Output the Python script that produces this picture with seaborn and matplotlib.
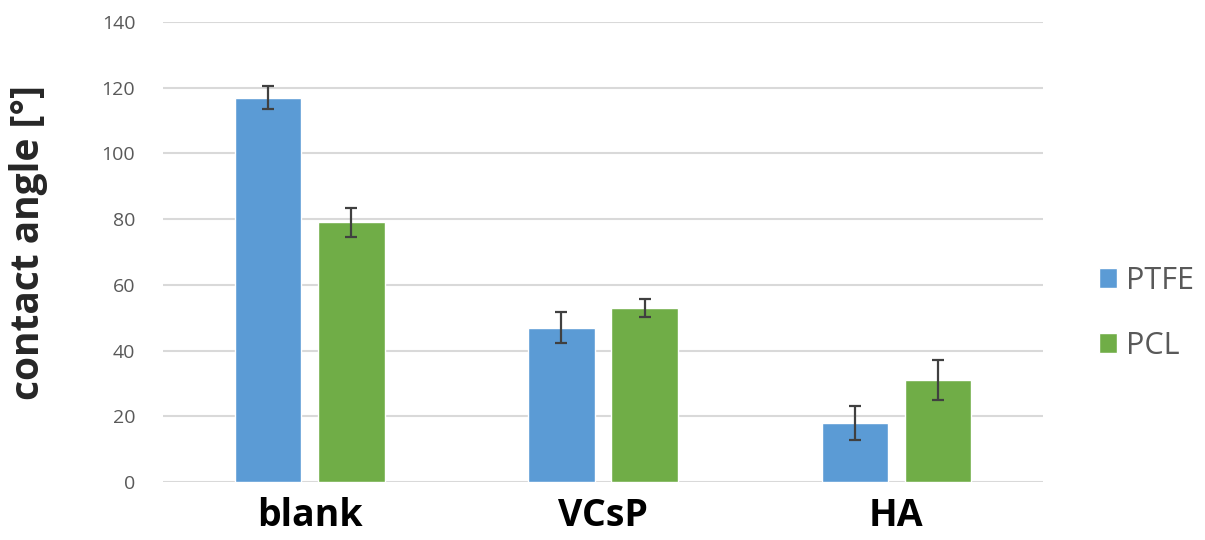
import pandas as pd
import matplotlib
matplotlib.use("Agg")
import matplotlib.pyplot as plt
import seaborn as sns

# data
categories = ["blank", "VCsP", "HA"]
ptfe_mean = [117, 47, 18]
ptfe_err = [3.5, 4.7, 5.2]
pcl_mean = [79, 53, 31]
pcl_err = [4.4, 2.8, 6.0]
series = ["PTFE", "PCL"]
colors = ["#5B9BD5", "#70AD47"]

df = pd.DataFrame({
    "sample": categories * 2,
    "material": ["PTFE"] * 3 + ["PCL"] * 3,
    "angle": ptfe_mean + pcl_mean,
    "err": ptfe_err + pcl_err,
})

sns.set_style("white")
plt.rcParams["font.family"] = ["Open Sans", "DejaVu Sans"]

fig = plt.figure(figsize=(12.05, 5.4), dpi=100)
ax = fig.add_axes([0.1353, 0.1074, 0.7303, 0.8519])

sns.barplot(data=df, x="sample", y="angle", hue="material", order=categories,
            hue_order=series, palette=colors, width=0.567, gap=0.2,
            saturation=1, errorbar=None, ax=ax)

# error bars at the centres of the drawn bars
for cont, name in zip(ax.containers, series):
    sub = df[df["material"] == name].set_index("sample").loc[categories]
    xs = [p.get_x() + p.get_width() / 2 for p in cont]
    ax.errorbar(xs, sub["angle"], yerr=sub["err"], fmt="none",
                ecolor="#404040", elinewidth=1.6, capsize=4.5, capthick=1.6, zorder=5)

ax.set_ylim(0, 140)
ax.set_xlim(-0.5, 2.5)
ax.set_yticks(range(0, 141, 20))
ax.yaxis.grid(True, color="#D9D9D9", linewidth=1.5)
ax.set_axisbelow(True)
for s in ax.spines.values():
    s.set_visible(False)
ax.tick_params(axis="y", labelsize=14, labelcolor="#595959", length=0, pad=20)
ax.tick_params(axis="x", labelsize=27, labelcolor="black", length=0, pad=11)
for lab in ax.get_xticklabels():
    lab.set_fontweight("bold")
ax.set_xlabel("")
ax.set_ylabel("contact angle [°]", fontsize=28, fontweight="bold")
ax.yaxis.set_label_coords(-0.131, 0.52)

handles, labels = ax.get_legend_handles_labels()
ax.legend(handles, labels, loc="center left", bbox_to_anchor=(0.912, 0.42),
          bbox_transform=fig.transFigure, frameon=False, fontsize=22,
          labelcolor="#595959", handlelength=0.6, handleheight=0.6,
          handletextpad=0.3, labelspacing=1.15, borderpad=0, borderaxespad=0)

fig.savefig("out.png", dpi=100)
